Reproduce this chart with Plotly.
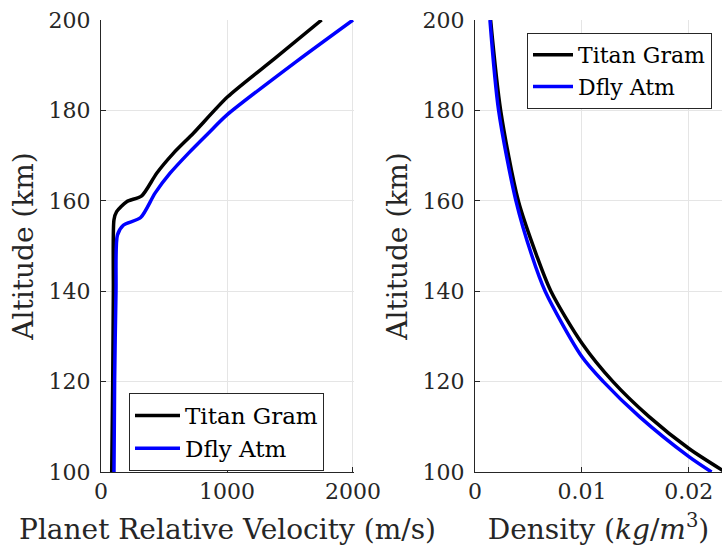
import plotly.graph_objects as go
from plotly.subplots import make_subplots

# Left panel: planet relative velocity (m/s) vs altitude (km)
vel_gram_alt = [100, 120, 140, 155.8, 157.6, 159.8, 161.1, 166.1, 170.5, 175, 183, 191.5, 200]
vel_gram = [85, 93, 98, 103, 124, 204, 323, 442, 574, 735, 1005, 1380, 1751]
vel_dfly_alt = [100, 120, 140, 152.4, 154.6, 156.3, 161.7, 166.1, 170.5, 174.9, 179, 190.8, 200]
vel_dfly = [103, 108, 119, 130, 177, 315, 429, 548, 693, 850, 1000, 1550, 2000]

# Right panel: density (kg/m^3) vs altitude (km)
den_gram_alt = [100, 105.2, 112.2, 120, 128.5, 140, 148, 160, 180, 200]
den_gram = [0.0234, 0.0200, 0.0163, 0.0129, 0.0100, 0.0071, 0.00575, 0.00405, 0.00240, 0.00146]
den_dfly_alt = [100, 103.4, 112.2, 120, 125.5, 140, 148, 160, 180, 200]
den_dfly = [0.02212, 0.0200, 0.0154, 0.0120, 0.0100, 0.00656, 0.00530, 0.00383, 0.00221, 0.00140]

names = ["Titan Gram", "Dfly Atm"]
colors = ["#000000", "#0000ff"]

FONT = "DejaVu Serif"
AX = "#262626"

fig = make_subplots(rows=1, cols=2)

fig.add_trace(go.Scatter(x=vel_gram, y=vel_gram_alt, mode="lines", name=names[0],
                         line=dict(color=colors[0], width=3.5, shape="spline", smoothing=0.7),
                         legend="legend"), row=1, col=1)
fig.add_trace(go.Scatter(x=vel_dfly, y=vel_dfly_alt, mode="lines", name=names[1],
                         line=dict(color=colors[1], width=3.5, shape="spline", smoothing=0.7),
                         legend="legend"), row=1, col=1)
fig.add_trace(go.Scatter(x=den_gram, y=den_gram_alt, mode="lines", name=names[0],
                         line=dict(color=colors[0], width=3.5, shape="spline", smoothing=0.8),
                         legend="legend2"), row=1, col=2)
fig.add_trace(go.Scatter(x=den_dfly, y=den_dfly_alt, mode="lines", name=names[1],
                         line=dict(color=colors[1], width=3.5, shape="spline", smoothing=0.8),
                         legend="legend2"), row=1, col=2)

common_ax = dict(showline=True, linecolor=AX, linewidth=1, mirror=False,
                 showgrid=True, gridcolor="#e5e5e5", gridwidth=1,
                 ticks="inside", ticklen=5, tickcolor=AX, zeroline=False,
                 tickfont=dict(family=FONT, size=22, color=AX), automargin=False)
title_font = dict(family=FONT, size=28, color=AX)

ydom = [82 / 554, 534 / 554]
fig.update_xaxes(domain=[101 / 722, 354 / 722], range=[0, 2008], tickvals=[0, 1000, 2000],
                 title=dict(text="Planet Relative Velocity (m/s)", font=title_font, standoff=15),
                 **common_ax, row=1, col=1)
fig.update_xaxes(domain=[475 / 722, 1.0], range=[0, 0.0231], tickvals=[0, 0.01, 0.02],
                 ticktext=["0", "0.01", "0.02"],
                 title=dict(text="Density (<i>kg</i>/<i>m</i><sup>3</sup>)", font=title_font, standoff=15),
                 **common_ax, row=1, col=2)
for c in (1, 2):
    fig.update_yaxes(domain=ydom, range=[100, 200], tickvals=[100, 120, 140, 160, 180, 200],
                     ticklabelstandoff=5,
                     title=dict(text="Altitude (km)", font=title_font, standoff=6),
                     **common_ax, row=1, col=c)

legend_common = dict(bgcolor="white", bordercolor=AX, borderwidth=1,
                     xanchor="left", yanchor="top", tracegroupgap=0)
fig.update_layout(
    width=722, height=554,
    margin=dict(l=0, r=0, t=0, b=0),
    paper_bgcolor="white", plot_bgcolor="white",
    showlegend=True,
    legend=dict(x=129 / 722, y=(554 - 393) / 554, itemwidth=45,
                font=dict(family=FONT, size=23, color="#000000"), **legend_common),
    legend2=dict(x=527 / 722, y=(554 - 33) / 554, itemwidth=40,
                 font=dict(family=FONT, size=22, color="#000000"), **legend_common),
)

fig.write_html("out.html")
